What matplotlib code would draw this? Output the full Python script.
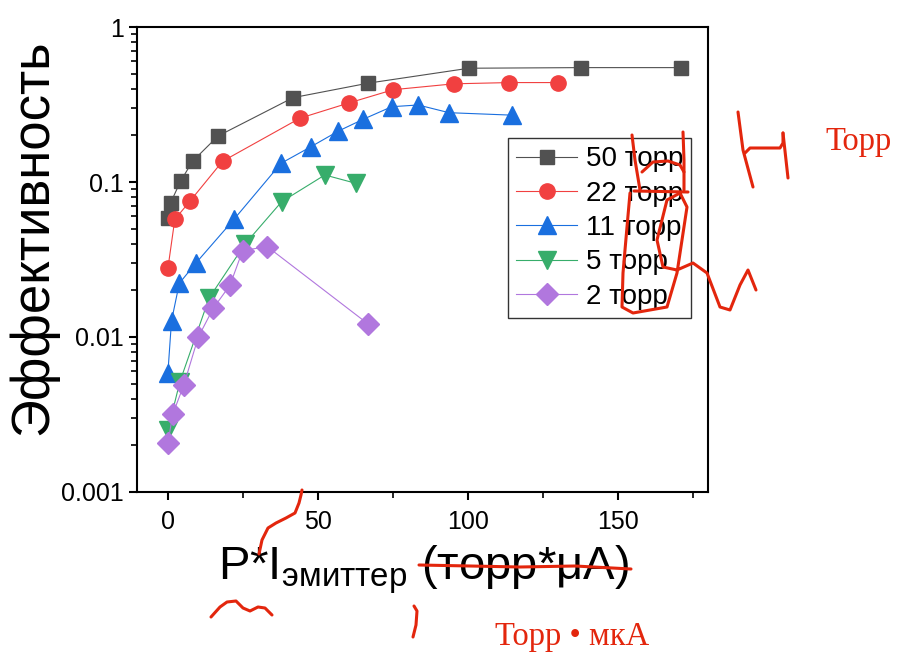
import matplotlib
matplotlib.use("Agg")
import matplotlib.pyplot as plt
from matplotlib.lines import Line2D
from matplotlib.ticker import MultipleLocator, LogLocator, NullFormatter, FixedFormatter, FixedLocator

plt.rcParams['font.family'] = ['Liberation Sans', 'DejaVu Sans']
plt.rcParams['mathtext.fontset'] = 'custom'
plt.rcParams['mathtext.rm'] = 'Liberation Sans'

# data
x50 = [0, 0.9, 4.2, 8.2, 16.7, 41.7, 66.7, 100.3, 137.7, 171]
y50 = [0.059, 0.0734, 0.101, 0.136, 0.198, 0.350, 0.434, 0.542, 0.547, 0.547]

x22 = [0, 2.3, 7.3, 18.2, 44, 60.4, 75.1, 95.3, 113.8, 130.1]
y22 = [0.0277, 0.0574, 0.075, 0.136, 0.258, 0.324, 0.394, 0.430, 0.438, 0.438]

x11 = [0, 1.2, 3.8, 9.2, 22, 37.7, 47.7, 56.8, 65.1, 74.6, 83.4, 93.7, 114.6]
y11 = [0.00589, 0.0127, 0.0222, 0.0298, 0.0574, 0.132, 0.169, 0.213, 0.254, 0.306, 0.314, 0.280, 0.270]

x5 = [0, 4, 13.7, 25.7, 37.9, 52.3, 62.7]
y5 = [0.00251, 0.00515, 0.0178, 0.0398, 0.0746, 0.111, 0.098]

x2 = [0, 1.6, 5.3, 10.1, 15.1, 20.7, 24.9, 33.1, 66.8]
y2 = [0.00206, 0.00317, 0.0049, 0.00996, 0.0153, 0.0216, 0.0361, 0.0383, 0.0121]

labels = ['50 торр', '22 торр', '11 торр', '5 торр', '2 торр']
colors = ['#515151', '#F14040', '#1A6FDF', '#37AD6B', '#B177DE']

fig = plt.figure(figsize=(9.02, 6.55), dpi=100)
ax = fig.add_axes([137/902, 1-492/655, (708-137)/902, (492-27)/655])

ax.plot(x50, y50, color=colors[0], marker='s', ms=10.5, lw=0.8, label=labels[0])
ax.plot(x22, y22, color=colors[1], marker='o', ms=11, lw=0.8, label=labels[1])
ax.plot(x11, y11, color=colors[2], marker='^', ms=12.5, lw=0.8, label=labels[2])
ax.plot(x5, y5, color=colors[3], marker='v', ms=12.5, lw=0.8, label=labels[3])
ax.plot(x2, y2, color=colors[4], marker='D', ms=11.5, lw=0.8, label=labels[4])

ax.set_yscale('log')
ax.set_ylim(0.001, 1)
ax.set_xlim(-10.3, 180)

ax.yaxis.set_major_locator(FixedLocator([0.001, 0.01, 0.1, 1]))
ax.yaxis.set_major_formatter(FixedFormatter(['0.001', '0.01', '0.1', '1']))
ax.yaxis.set_minor_locator(LogLocator(base=10, subs=range(2, 10)))
ax.yaxis.set_minor_formatter(NullFormatter())
ax.xaxis.set_major_locator(MultipleLocator(50))
ax.xaxis.set_minor_locator(MultipleLocator(25))

for s in ax.spines.values():
    s.set_linewidth(1.5)
ax.tick_params(which='major', length=6, width=1.5, labelsize=18, direction='out')
ax.tick_params(axis='x', which='major', pad=7)
ax.tick_params(which='minor', length=4, width=1.2, direction='out')

ax.set_ylabel('Эффективность', fontsize=38)
ax.yaxis.set_label_coords(-0.138, 0.548)
ax.set_xlabel(r'P*I$_\mathregular{эмиттер}$ (торр*μA)', fontsize=34)
ax.xaxis.set_label_coords(0.502, -0.11)

leg = ax.legend(loc='upper left', bbox_to_anchor=((508-137)/571, 1-(138-27)/465),
                fontsize=20, frameon=True, fancybox=False, edgecolor='black',
                borderpad=0.3, labelspacing=0.3, handlelength=2.2, handletextpad=0.3,
                borderaxespad=0)
leg.get_frame().set_linewidth(1.0)

# handwritten red notes (positions in image pixels)
red = '#e3260d'
def stroke(pts):
    xs = [p[0]/902 for p in pts]
    ys = [1-p[1]/655 for p in pts]
    fig.add_artist(Line2D(xs, ys, transform=fig.transFigure, color=red, lw=2.2,
                          solid_capstyle='round', solid_joinstyle='round'))

stroke([(419, 565), (470, 566), (520, 567), (575, 566), (631, 569)])
stroke([(259, 554), (262, 540), (268, 528), (276, 523), (286, 518), (295, 513), (299, 503), (301, 495), (302, 490)])
stroke([(211, 617), (220, 607), (227, 602), (236, 601), (243, 608), (250, 611), (258, 607), (265, 608), (272, 615)])
stroke([(414, 606), (417, 611), (416, 625), (413, 637)])
stroke([(632, 135), (635, 160), (640, 190)])
stroke([(642, 172), (653, 162), (668, 161), (680, 165), (684, 172)])
stroke([(683, 132), (684, 160), (684, 190)])
stroke([(634, 191), (688, 192)])
stroke([(630, 193), (627, 227), (623, 273), (622, 307), (633, 313), (667, 307), (677, 273),
        (682, 240), (687, 207), (680, 193), (667, 200), (657, 240), (663, 267), (677, 270),
        (693, 263), (707, 273), (720, 307), (730, 310), (740, 285), (748, 270), (756, 290)])
stroke([(738, 112), (743, 150), (753, 187)])
stroke([(745, 153), (750, 148), (780, 148), (783, 143), (783, 133)])
stroke([(783, 133), (786, 160), (788, 178)])

fig.text(825/902, 1-150/655, 'Торр', color=red, fontsize=23.5, family='Liberation Serif')
fig.text(495/902, 1-645/655, 'Торр • мкА', color=red, fontsize=23.5, family='Liberation Serif')

fig.savefig('out.png', dpi=100)
